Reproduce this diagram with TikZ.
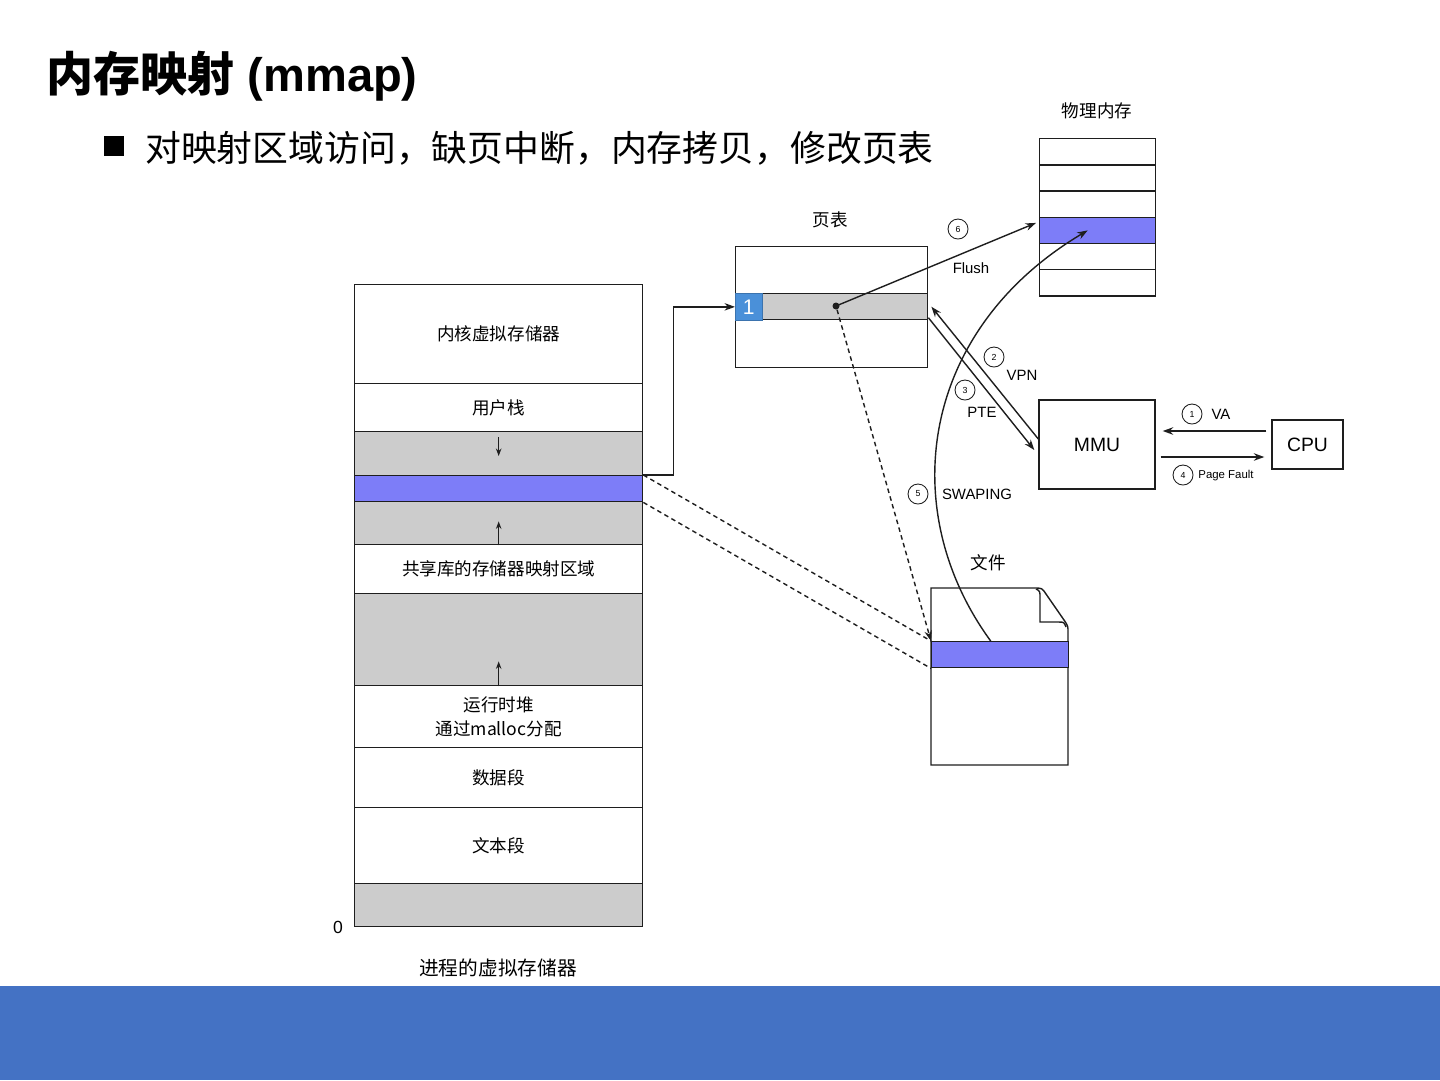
\documentclass[tikz,border=0pt]{standalone}
\usepackage{fontspec}
\setmainfont{Liberation Sans}
\newfontfamily\cjk{Noto Sans CJK SC}
\usepackage{tikz}
\usetikzlibrary{arrows.meta,positioning,calc}
\definecolor{ink}{HTML}{1E1E1E}
\definecolor{seggray}{HTML}{CCCCCC}
\definecolor{mapblue}{HTML}{7D7DF8}
\definecolor{pteblue}{HTML}{4A90D9}
\definecolor{barblue}{HTML}{4472C4}
\tikzset{
  >={Stealth[length=2.1mm,width=1.5mm]},
  seg/.style={draw=ink, line width=.8pt, fill=white, anchor=north west, minimum width=5.76cm,
    inner sep=0pt, font=\cjk\fontsize{10}{14}\selectfont, align=center},
  gapseg/.style={seg, fill=seggray},
  hotseg/.style={seg, fill=mapblue},
  cell/.style={draw=ink, line width=.8pt, anchor=north west, minimum width=2.32cm,
    minimum height=.524cm, inner sep=0pt},
  unit/.style={draw=ink, line width=.8pt, fill=white, font=\fontsize{11}{13}\selectfont, inner sep=0pt},
  boxname/.style={font=\cjk\fontsize{10}{12}\selectfont},
  tag/.style={font=\fontsize{8.5}{10}\selectfont},
  num/.style={circle, draw=ink, line width=.5pt, minimum size=.4cm, inner sep=0pt,
    font=\fontsize{5}{5}\selectfont},
  flow/.style={->, line width=.8pt, color=ink},
  dashflow/.style={line width=.8pt, color=ink, dash pattern=on 2.6pt off 2pt},
  growth/.style={-{Stealth[length=1.5mm,width=1.1mm]}, line width=.8pt, color=ink}
}

\begin{document}
\begin{tikzpicture}[x=0.02cm,y=-0.02cm]
  \useasboundingbox (0,0) rectangle (1440,1080);
  \fill[barblue] (0,986) rectangle (1440,1080);

  % heading
  \node[anchor=west, font=\fontsize{26.8}{30}\selectfont\bfseries] (title) at (40,76) {{\cjk 内存映射} (mmap)};
  \node[fill=black, minimum size=.4cm, inner sep=0pt] (bullet) at (114,146) {};
  \node[anchor=west, font=\cjk\fontsize{20.4}{24}\selectfont] (point) at (139,148)
    {对映射区域访问，缺页中断，内存拷贝，修改页表};

  % process address space
  \node[seg, minimum height=1.98cm] (kernel) at (354,284) {内核虚拟存储器};
  \node[seg, minimum height=.96cm] (ustack) at (354,383) {用户栈};
  \node[gapseg, minimum height=.88cm] (gapa) at (354,431) {};
  \node[hotseg, minimum height=.52cm] (mapped) at (354,475) {};
  \node[gapseg, minimum height=.86cm] (gapb) at (354,501) {};
  \node[seg, minimum height=.98cm] (shlib) at (354,544) {共享库的存储器映射区域};
  \node[gapseg, minimum height=1.84cm] (gapc) at (354,593) {};
  \node[seg, minimum height=1.24cm] (heap) at (354,685) {运行时堆\\通过malloc分配};
  \node[seg, minimum height=1.2cm] (data) at (354,747) {数据段};
  \node[seg, minimum height=1.52cm] (textseg) at (354,807) {文本段};
  \node[gapseg, minimum height=.86cm] (low) at (354,883) {};
  \node[anchor=east, font=\fontsize{10}{12}\selectfont] (zero) at (349,927) {0};
  \node[boxname, font=\cjk\fontsize{11.2}{13}\selectfont] (vmname) at (498,968) {进程的虚拟存储器};
  \draw[growth] ([yshift=-.12cm]gapa.north) -- ++(0,19);
  \draw[growth] (gapb.south) -- ++(0,-24);
  \draw[growth] (gapc.south) -- ++(0,-25);

  % page table
  \node[boxname] (ptname) at (830,220) {页表};
  \node[unit, minimum width=3.84cm, minimum height=2.42cm, anchor=north west] (pt) at (735,246) {};
  \node[draw=ink, line width=.8pt, fill=seggray, minimum width=3.3cm, minimum height=.52cm,
    inner sep=0pt, anchor=north west] (ptrow) at (762,293) {};
  \node[draw=pteblue!80!black, fill=pteblue, text=white, minimum width=.54cm, minimum height=.54cm,
    inner sep=0pt, anchor=north west, font=\fontsize{12}{12}\selectfont] (pte) at (735,293) {1};
  \node[circle, fill=ink, minimum size=.14cm, inner sep=0pt] (ptdot) at (836,306) {};

  % physical memory
  \node[boxname] (pmname) at (1097,111) {物理内存};
  \foreach \i/\c in {0/white,1/white,2/white,3/mapblue,4/white,5/white}
    \node[cell, fill=\c] (pm\i) at (1039,138+26.2*\i) {};

  % mmu and cpu
  \node[unit, minimum width=2.32cm, minimum height=1.78cm] (mmu) at (1097,444.5) {MMU};
  \node[unit, minimum width=1.42cm, minimum height=.98cm] (cpu) at (1307.5,444.5) {CPU};

  % file
  \node[boxname] (filename) at (988,563) {文件};
  \draw[line width=.8pt, draw=ink, fill=white] (931,765) -- (931,588) -- (1034,588)
    .. controls (1042,588) .. (1046,594) -- (1064,620) .. controls (1068,626) .. (1068,632)
    -- (1068,765) -- cycle;
  \draw[line width=.8pt, draw=ink] (1036,589) .. controls (1040,591) .. (1040,598) -- (1040,622)
    -- (1058,622) .. controls (1064,622) .. (1066,627);
  \node[draw=ink, line width=.8pt, fill=mapblue, minimum width=2.74cm, minimum height=.52cm,
    inner sep=0pt, anchor=north west] (band) at (931,641) {};

  % mapping
  \draw[flow] (mapped.north east) -- ++(30,0) |- (pte.west);
  \draw[dashflow] (mapped.north east) -- (band.north west);
  \draw[dashflow] (mapped.south east) -- (band.south west);
  \draw[dashflow, ->] (ptdot) -- (band.north west);

  % flush
  \draw[flow] (ptdot.center) -- ([xshift=-.06cm,yshift=.15cm]pm3.west);
  \node[num] (n6) at (958,229) {6};
  \node[tag] (flushlbl) at (971,268) {Flush};

  % vpn / pte
  \draw[flow] ([yshift=.11cm]mmu.west) -- ([xshift=.06cm]ptrow.east);
  \draw[flow] ([yshift=-.22cm]ptrow.east) -- ([xshift=-.08cm,yshift=-.11cm]mmu.west);
  \node[num] (n2) at (994,357) {2};
  \node[tag] (vpnlbl) at (1022,375) {VPN};
  \node[num] (n3) at (965,390) {3};
  \node[tag] (ptelbl) at (982,412) {PTE};

  % va / page fault
  \draw[flow] ([xshift=-.1cm,yshift=.27cm]cpu.west) -- ([xshift=.14cm,yshift=.27cm]mmu.east);
  \draw[flow] ([xshift=.1cm,yshift=-.25cm]mmu.east) -- ([xshift=-.14cm,yshift=-.25cm]cpu.west);
  \node[num] (n1) at (1192,414) {1};
  \node[tag] (valbl) at (1221,414) {VA};
  \node[num] (n4) at (1183,475) {4};
  \node[tag, font=\fontsize{6.5}{8}\selectfont] (pflbl) at (1226,476) {Page Fault};

  % swapping
  \draw[flow] ([xshift=-.19cm]band.north) .. controls (895,510) and (920,330) .. ([xshift=-.2cm]pm3.center);
  \node[num] (n5) at (918,494) {5};
  \node[tag] (swaplbl) at (977,494) {SWAPING};
\end{tikzpicture}
\end{document}
